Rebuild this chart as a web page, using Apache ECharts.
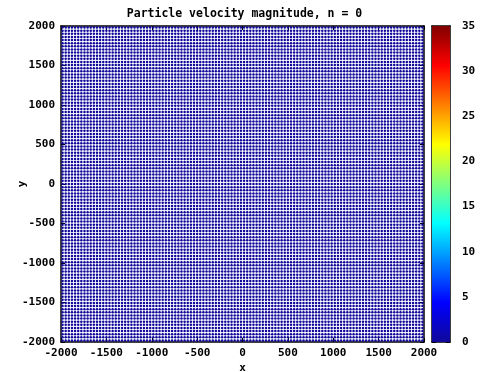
<!DOCTYPE html>
<html>
<head>
<meta charset="utf-8">
<script src="https://cdn.jsdelivr.net/npm/echarts@6/dist/echarts.min.js"></script>
<style>
  html, body { margin: 0; padding: 0; background: #ffffff; }
  #chart { width: 489px; height: 372px; }
</style>
</head>
<body>
<div id="chart"></div>
<script>
// Particle lattice: column and row counts across the [-2000, 2000] box
const titleText = 'Particle velocity magnitude, n = 0';
const xRange = [-2000, 2000];
const yRange = [-2000, 2000];
const xTicks = [-2000, -1500, -1000, -500, 0, 500, 1000, 1500, 2000];
const yTicks = [-2000, -1500, -1000, -500, 0, 500, 1000, 1500, 2000];
const colorTicks = [0, 5, 10, 15, 20, 25, 30, 35];
const nColumns = 116;
const nRows = 101;
// Speed of every particle at step n = 0 (all at rest)
const speedAtStart = 0;
const colorRange = [0, 35];

// Build particle positions on the regular lattice
const particles = [];
const dx = (xRange[1] - xRange[0]) / nColumns;
const dy = (yRange[1] - yRange[0]) / nRows;
for (let j = 0; j < nRows; j++) {
  for (let i = 0; i < nColumns; i++) {
    particles.push([xRange[0] + (i + 0.5) * dx, yRange[0] + (j + 0.5) * dy, speedAtStart]);
  }
}

// Jet colour map stops
const jetStops = ['#10089a', '#0000ff', '#00ffff', '#ffff00', '#ff0000', '#800000'];
const jetPos = [0, 0.125, 0.375, 0.625, 0.875, 1];

const fontFam = '"DejaVu Sans Mono", monospace';
const plain = v => String(v);
const labelStyle = { color: '#000', fontFamily: fontFam, fontWeight: 'bold', fontSize: 11 };
const frameLine = { show: true, onZero: false, lineStyle: { color: '#000', width: 1.5 } };
const tickIn = { show: true, inside: true, length: 4, lineStyle: { color: '#000', width: 1 } };

const chart = echarts.init(document.getElementById('chart'), null, { renderer: 'canvas' });
chart.setOption({
  animation: false,
  backgroundColor: '#ffffff',
  title: {
    text: titleText,
    left: 'center', top: 3,
    textStyle: { fontFamily: fontFam, fontWeight: 'bold', fontSize: 11.5, color: '#000' }
  },
  grid: [
    { left: 61, top: 26, width: 363, height: 316, containLabel: false, outerBoundsMode: 'none' },
    { left: 432, top: 26, width: 18, height: 316, containLabel: false, outerBoundsMode: 'none' }
  ],
  xAxis: [
    {
      gridIndex: 0, type: 'value', min: xRange[0], max: xRange[1], interval: 500,
      position: 'bottom', axisLine: frameLine, axisTick: tickIn, splitLine: { show: false },
      axisLabel: { ...labelStyle, margin: 6, formatter: plain, showMinLabel: true, showMaxLabel: true },
      name: 'x', nameLocation: 'middle', nameGap: 21, nameMoveOverlap: false,
      nameTextStyle: { ...labelStyle }
    },
    {
      gridIndex: 0, type: 'value', min: xRange[0], max: xRange[1], interval: 500,
      position: 'top', axisLine: frameLine, axisTick: tickIn, splitLine: { show: false },
      axisLabel: { show: false }
    },
    {
      gridIndex: 1, type: 'category', data: ['c'], position: 'bottom',
      axisLine: frameLine, axisTick: { show: false }, axisLabel: { show: false }
    },
    {
      gridIndex: 1, type: 'category', data: ['c'], position: 'top',
      axisLine: frameLine, axisTick: { show: false }, axisLabel: { show: false }
    }
  ],
  yAxis: [
    {
      gridIndex: 0, type: 'value', min: yRange[0], max: yRange[1], interval: 500,
      position: 'left', axisLine: frameLine, axisTick: tickIn, splitLine: { show: false },
      axisLabel: { ...labelStyle, margin: 6, formatter: plain },
      name: 'y', nameLocation: 'middle', nameGap: 33, nameRotate: 90, nameMoveOverlap: false,
      nameTextStyle: { ...labelStyle }
    },
    {
      gridIndex: 0, type: 'value', min: yRange[0], max: yRange[1], interval: 500,
      position: 'right', axisLine: frameLine, axisTick: tickIn, splitLine: { show: false },
      axisLabel: { show: false }
    },
    {
      gridIndex: 1, type: 'value', min: colorRange[0], max: colorRange[1], interval: 5,
      position: 'right', axisLine: frameLine, axisTick: tickIn, splitLine: { show: false },
      axisLabel: { ...labelStyle, margin: 12, fontSize: 11, formatter: plain }
    },
    {
      gridIndex: 1, type: 'value', min: colorRange[0], max: colorRange[1], interval: 5,
      position: 'left', axisLine: frameLine, axisTick: tickIn, splitLine: { show: false },
      axisLabel: { show: false }
    }
  ],
  visualMap: {
    show: false, type: 'continuous', seriesIndex: 0, dimension: 2,
    min: colorRange[0], max: colorRange[1],
    inRange: { color: jetStops }
  },
  series: [
    {
      type: 'scatter', xAxisIndex: 0, yAxisIndex: 0,
      data: particles, symbol: 'circle', symbolSize: 2.5,
      large: true, largeThreshold: 100000,
      itemStyle: { opacity: 1 },
      z: 1
    },
    {
      // colour bar drawn as one bar spanning the full colour range
      type: 'bar', xAxisIndex: 2, yAxisIndex: 2,
      data: [colorRange[1]], barWidth: '100%', silent: true,
      itemStyle: {
        color: new echarts.graphic.LinearGradient(0, 1, 0, 0,
          jetStops.map((c, k) => ({ offset: jetPos[k], color: c })))
      },
      z: 1
    }
  ]
});
</script>
</body>
</html>
